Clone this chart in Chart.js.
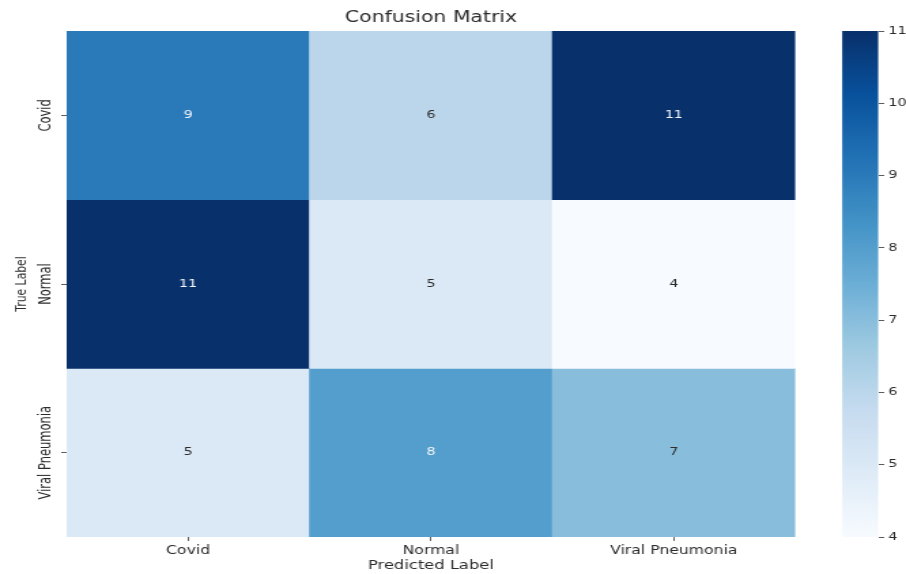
<!DOCTYPE html>
<html>
<head>
<meta charset="utf-8">
<title>Confusion Matrix</title>
<script src="https://cdn.jsdelivr.net/npm/chart.js@4.4.1/dist/chart.umd.min.js"></script>
<style>
  html, body { margin: 0; padding: 0; background: #ffffff; }
  #wrap { position: relative; width: 906px; height: 574px; overflow: hidden; }
</style>
</head>
<body>
<div id="wrap">
  <canvas id="heat" width="666" height="574" style="position:absolute;left:0;top:0;width:906px;height:574px"></canvas>
  <canvas id="cbar" width="666" height="574" style="position:absolute;left:0;top:0;width:906px;height:574px"></canvas>
</div>
<script>
// Class names on both axes
const predictedLabels = ['Covid', 'Normal', 'Viral Pneumonia'];
const trueLabels = ['Covid', 'Normal', 'Viral Pneumonia'];

// Counts, one row per true class (columns follow predictedLabels)
const covidRow = [9, 6, 11];
const normalRow = [11, 5, 4];
const viralRow = [5, 8, 7];

// Colour bar tick values
const colorbarTicks = [4, 5, 6, 7, 8, 9, 10, 11];

const matrixRows = [covidRow, normalRow, viralRow];
const allValues = matrixRows.flat();
const vmin = Math.min(...allValues);
const vmax = Math.max(...allValues);

const FONT = "'DejaVu Sans', 'Noto Sans', sans-serif";
const TEXT_DARK = '#2b2b2b';

// "Blues" sequential colormap anchors
const BLUES = [
  [247, 251, 255], [222, 235, 247], [198, 219, 239], [158, 202, 225],
  [107, 174, 214], [66, 146, 198], [33, 113, 181], [8, 81, 156], [8, 48, 107]
];

function bluesRGB(t) {
  t = Math.max(0, Math.min(1, t));
  const pos = t * (BLUES.length - 1);
  const i = Math.min(Math.floor(pos), BLUES.length - 2);
  const f = pos - i;
  return BLUES[i].map((c, k) => c + (BLUES[i + 1][k] - c) * f);
}
function toCss(rgb) {
  return 'rgb(' + rgb.map(v => Math.round(v)).join(',') + ')';
}
function colorFor(v) {
  return toCss(bluesRGB((v - vmin) / (vmax - vmin)));
}
function luminance(rgb) {
  const lin = rgb.map(c => {
    c = c / 255;
    return c <= 0.03928 ? c / 12.92 : Math.pow((c + 0.055) / 1.055, 2.4);
  });
  return 0.2126 * lin[0] + 0.7152 * lin[1] + 0.0722 * lin[2];
}

// Each true class is one dataset of floating bars spanning its row band
const datasets = matrixRows.map((row, i) => ({
  label: trueLabels[i],
  data: row.map(() => [i, i + 1]),
  values: row,
  backgroundColor: row.map(colorFor),
  borderWidth: 0,
  barPercentage: 1,
  categoryPercentage: 1,
  grouped: false
}));

// Writes the count in the middle of each cell
const cellText = {
  id: 'cellText',
  afterDatasetsDraw(chart) {
    const ctx = chart.ctx;
    ctx.save();
    ctx.font = '10.5px ' + FONT;
    ctx.textAlign = 'center';
    ctx.textBaseline = 'middle';
    chart.data.datasets.forEach((ds, i) => {
      chart.getDatasetMeta(i).data.forEach((bar, j) => {
        const v = ds.values[j];
        const rgb = bluesRGB((v - vmin) / (vmax - vmin));
        ctx.fillStyle = luminance(rgb) < 0.408 ? '#f4f7fc' : TEXT_DARK;
        const c = bar.getCenterPoint();
        ctx.fillText(String(v), c.x, c.y);
      });
    });
    ctx.restore();
  }
};

// Vertical row labels next to the y ticks
const rowLabels = {
  id: 'rowLabels',
  afterDraw(chart) {
    const y = chart.scales.y;
    const ctx = chart.ctx;
    ctx.save();
    ctx.font = '11.5px ' + FONT;
    ctx.fillStyle = TEXT_DARK;
    ctx.textAlign = 'center';
    ctx.textBaseline = 'middle';
    const x = y.right - 15.2;
    y.ticks.forEach((t, i) => {
      const py = y.getPixelForTick(i);
      ctx.save();
      ctx.translate(x, py);
      ctx.rotate(-Math.PI / 2);
      ctx.fillText(trueLabels[Math.floor(t.value)], 0, 0);
      ctx.restore();
    });
    ctx.restore();
  }
};

new Chart(document.getElementById('heat'), {
  type: 'bar',
  data: { labels: predictedLabels, datasets },
  plugins: [cellText, rowLabels],
  options: {
    responsive: false,
    animation: false,
    devicePixelRatio: 1,
    layout: { padding: { left: 0, right: 81.4, top: 0, bottom: 0 } },
    plugins: {
      legend: { display: false },
      tooltip: { enabled: false },
      title: {
        display: true,
        text: 'Confusion Matrix',
        fullSize: false,
        color: TEXT_DARK,
        font: { family: FONT, size: 15, weight: 'normal', lineHeight: 1.2 },
        padding: { top: 9, bottom: 4 }
      }
    },
    scales: {
      x: {
        type: 'category',
        offset: true,
        border: { display: false },
        grid: {
          display: true, offset: false, drawOnChartArea: false, drawTicks: true,
          tickLength: 4, tickColor: '#333', tickWidth: 0.8
        },
        ticks: {
          color: TEXT_DARK, padding: 3, maxRotation: 0, minRotation: 0,
          font: { family: FONT, size: 11.5 }
        },
        title: {
          display: true, text: 'Predicted Label', color: TEXT_DARK,
          font: { family: FONT, size: 12, weight: 'normal', lineHeight: 1.2 },
          padding: { top: 0, bottom: 1.3 }
        },
        afterFit(scale) { scale.height = 37; }
      },
      y: {
        type: 'linear',
        min: 0,
        max: trueLabels.length,
        reverse: true,
        border: { display: false },
        grid: {
          display: true, drawOnChartArea: false, drawTicks: true,
          tickLength: 4, tickColor: '#333', tickWidth: 0.8
        },
        afterBuildTicks(scale) {
          scale.ticks = trueLabels.map((_, i) => ({ value: i + 0.5 }));
        },
        ticks: { display: false },
        title: {
          display: true, text: 'True Label', color: TEXT_DARK,
          font: { family: FONT, size: 10.8, lineHeight: 1.2 },
          padding: { top: 9.4, bottom: 0 }
        },
        afterFit(scale) { scale.width = 49; }
      }
    }
  }
});

// Colour bar: one floating bar spanning the value range, filled with the colormap
new Chart(document.getElementById('cbar'), {
  type: 'bar',
  data: {
    labels: [''],
    datasets: [{
      data: [[vmin, vmax]],
      borderWidth: 0,
      barPercentage: 1,
      categoryPercentage: 1,
      backgroundColor(context) {
        const area = context.chart.chartArea;
        if (!area) return null;
        const g = context.chart.ctx.createLinearGradient(0, area.bottom, 0, area.top);
        for (let k = 0; k <= 32; k++) {
          const t = k / 32;
          g.addColorStop(t, toCss(bluesRGB(t)));
        }
        return g;
      }
    }]
  },
  options: {
    responsive: false,
    animation: false,
    devicePixelRatio: 1,
    layout: { padding: { left: 619.1, right: 0, top: 31, bottom: 37 } },
    plugins: { legend: { display: false }, tooltip: { enabled: false }, title: { display: false } },
    scales: {
      x: { display: false },
      y: {
        type: 'linear',
        position: 'right',
        min: vmin,
        max: vmax,
        border: { display: false },
        grid: {
          display: true, drawOnChartArea: false, drawTicks: true,
          tickLength: 4.4, tickColor: '#333', tickWidth: 0.8
        },
        afterBuildTicks(scale) {
          scale.ticks = colorbarTicks.map(v => ({ value: v }));
        },
        ticks: {
          color: TEXT_DARK, padding: 3,
          font: { family: FONT, size: 10.5 }
        },
        afterFit(scale) { scale.width = 666 - 645.6; }
      }
    }
  }
});
</script>
</body>
</html>
